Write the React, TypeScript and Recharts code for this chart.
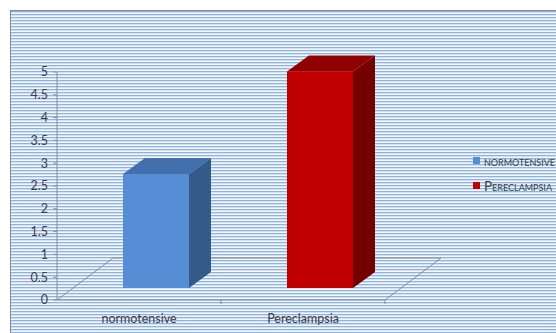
import { BarChart, Bar, XAxis, YAxis, Cell, ReferenceLine } from "recharts";

const CATEGORIES = ["normotensive", "Pereclampsia"];
const VALUES = [2.5, 4.75];
const Y_TICKS = [0, 0.5, 1, 1.5, 2, 2.5, 3, 3.5, 4, 4.5, 5];

// front / top / side shades for each bar
const FRONT = ["#558ed5", "#c00000"];
const TOP = ["#4170ad", "#900000"];
const SIDE = ["#345a8a", "#740000"];

const data = CATEGORIES.map((name, i) => ({ name, value: VALUES[i], idx: i }));

// oblique projection offsets (bars sit a bit behind the front edge)
const BAR_SHIFT = { x: 17, y: -12 };
const BAR_DEPTH = { x: 22, y: -16 };
const FLOOR_DEPTH = { x: 56, y: -42 };

const AXIS_GRAY = "#8c8c8c";
const TEXT = "#404040";

function Box3D(props: any) {
  const { x, y, width, height, payload } = props;
  const i = payload.idx;
  const fx = x + BAR_SHIFT.x;
  const fy = y + BAR_SHIFT.y;
  const dx = BAR_DEPTH.x;
  const dy = BAR_DEPTH.y;
  const b = fy + height;
  return (
    <g>
      <polygon
        points={`${fx},${fy} ${fx + dx},${fy + dy} ${fx + width + dx},${fy + dy} ${fx + width},${fy}`}
        fill={TOP[i]}
      />
      <polygon
        points={`${fx + width},${fy} ${fx + width + dx},${fy + dy} ${fx + width + dx},${b + dy} ${fx + width},${b}`}
        fill={SIDE[i]}
      />
      <rect x={fx} y={fy} width={width} height={height} fill={FRONT[i]} />
    </g>
  );
}

function Floor(props: any) {
  const { x1, y1, x2 } = props;
  const dx = FLOOR_DEPTH.x;
  const dy = FLOOR_DEPTH.y;
  const mid = (x1 + x2) / 2;
  return (
    <g stroke={AXIS_GRAY} strokeWidth={1} fill="none">
      <polyline points={`${x1},${y1} ${x1 + dx},${y1 + dy} ${x2 + dx},${y1 + dy} ${x2},${y1}`} />
      <line x1={x1} y1={y1} x2={x2} y2={y1} />
      <line x1={mid} y1={y1} x2={mid} y2={y1 + 4} />
      <line x1={x2} y1={y1} x2={x2} y2={y1 + 4} />
    </g>
  );
}

function LegendBox() {
  return (
    <div style={{ fontFamily: "Lato, sans-serif", fontSize: 13.5, color: TEXT, fontVariant: "small-caps" }}>
      {CATEGORIES.map((c, i) => (
        <div key={c} style={{ display: "flex", alignItems: "center", height: 25, whiteSpace: "nowrap" }}>
          <span style={{ width: 7, height: 7, background: FRONT[i], marginRight: 4, display: "inline-block" }} />
          {c}
        </div>
      ))}
    </div>
  );
}

export default function App() {
  return (
    <div style={{ position: "absolute", left: 0, top: 0, width: 556, height: 333, overflow: "hidden", background: "#fff" }}>
      <div
        style={{
          position: "absolute",
          left: 10,
          top: 10,
          width: 560,
          height: 340,
          border: "1px solid #8a8a8a",
          background:
            "repeating-linear-gradient(to bottom, #8db3e2 0px, #8db3e2 1px, #d3e0f1 1px, #d3e0f1 2px, #f4f7fc 2px, #f4f7fc 3px)",
        }}
      />
      <div style={{ position: "absolute", left: 0, top: 0 }}>
        <BarChart
          width={556}
          height={333}
          data={data}
          margin={{ top: 72, right: 171, bottom: 3, left: 0 }}
          barSize={66}
          style={{ fontFamily: "Lato, sans-serif" }}
        >
          <YAxis
            domain={[0, 5]}
            ticks={Y_TICKS}
            width={57}
            tickSize={4}
            tickMargin={5}
            stroke={AXIS_GRAY}
            tick={{ fill: TEXT, fontSize: 12.5 }}
            interval={0}
          />
          <XAxis
            dataKey="name"
            height={30}
            axisLine={false}
            tickLine={false}
            tick={{ fill: TEXT, fontSize: 12.5 }}
            tickMargin={8}
          />
          <ReferenceLine y={0} shape={Floor} zIndex={100} ifOverflow="visible" />
          <Bar dataKey="value" shape={Box3D} isAnimationActive={false}>
            {data.map((d, i) => (
              <Cell key={d.name} fill={FRONT[i]} />
            ))}
          </Bar>
        </BarChart>
      </div>
      <div style={{ position: "absolute", left: 473, top: 148 }}>
        <LegendBox />
      </div>
    </div>
  );
}
